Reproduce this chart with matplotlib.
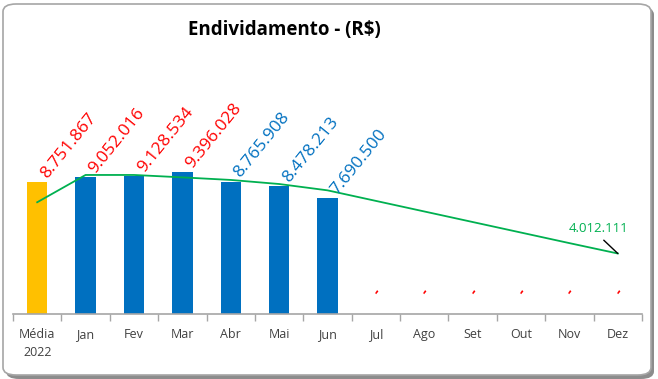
import matplotlib
matplotlib.use("Agg")
import matplotlib.pyplot as plt
from matplotlib.patches import FancyBboxPatch

categories = ["Média\n2022", "Jan", "Fev", "Mar", "Abr", "Mai", "Jun",
              "Jul", "Ago", "Set", "Out", "Nov", "Dez"]
values = [8751867, 9052016, 9128534, 9396028, 8765908, 8478213, 7690500,
          0, 0, 0, 0, 0, 0]
bar_colors = ["#FFC000"] + ["#0070C0"] * 12
label_colors = ["#FF0000"] * 4 + ["#0070C0"] * 3 + ["#FF0000"] * 6
trend = [7410000, 9220000, 9220000, 9060000, 8890000, 8620000, 8200000,
         7500000, 6800000, 6100000, 5400000, 4700000, 4012111]
trend_label = "4.012.111"

plt.rcParams['font.family'] = ['Open Sans', 'DejaVu Sans']

W, H = 658, 379
fig = plt.figure(figsize=(W / 100, H / 100), dpi=100)

# background frame with shadow
shadow = FancyBboxPatch((6 / W, 1 - 379 / H), 648 / W, 372 / H,
                        boxstyle="round,pad=0,rounding_size=0.02",
                        transform=fig.transFigure, facecolor="#8c8c8c",
                        edgecolor="none", zorder=0)
frame = FancyBboxPatch((3 / W, 1 - 375 / H), 648 / W, 371 / H,
                       boxstyle="round,pad=0,rounding_size=0.02",
                       transform=fig.transFigure, facecolor="white",
                       edgecolor="#a6a6a6", linewidth=1.2, zorder=1)
fig.patches.extend([shadow, frame])

ax = fig.add_axes([13 / W, 1 - 314 / H, (642 - 13) / W, (314 - 60) / H])
ax.set_facecolor("none")
ax.set_zorder(2)

x = list(range(len(categories)))
ax.bar(x, values, width=0.42, color=bar_colors, zorder=2)
ax.plot(x, trend, color="#00B050", linewidth=1.3, zorder=3)

ax.set_xlim(-0.5, len(categories) - 0.5)
ax.set_ylim(0, 254 / 15.08 * 1e6)

for i, v in enumerate(values):
    txt = f"{v:,}".replace(",", ".") if v else "-"
    if v:
        ax.annotate(txt, xy=(i, v), xytext=(13, 1), textcoords="offset pixels",
                    rotation=51, rotation_mode="anchor", ha="left", va="bottom",
                    color=label_colors[i], fontsize=12.5, zorder=4)
    else:
        ax.annotate(txt, xy=(i, v), xytext=(1, 22), textcoords="offset pixels",
                    rotation=55, rotation_mode="anchor", ha="center", va="center",
                    color=label_colors[i], fontsize=10, fontweight="bold",
                    zorder=4)

last = len(trend) - 1
ax.annotate(trend_label, xy=(last, trend[last]), xytext=(-19, 18),
            textcoords="offset pixels", ha="center", va="bottom",
            color="#00B050", fontsize=9.5, zorder=5,
            arrowprops=dict(arrowstyle="-", color="black", lw=1,
                            shrinkA=2, shrinkB=0,
                            relpos=(0.5, 0.0)))

for s in ["top", "right", "left"]:
    ax.spines[s].set_visible(False)
ax.spines["bottom"].set_color("#a6a6a6")
ax.spines["bottom"].set_linewidth(1.2)
ax.set_yticks([])
ax.set_xticks([i - 0.5 for i in range(len(categories) + 1)], minor=False)
ax.set_xticklabels([])
ax.tick_params(axis="x", which="major", length=5, color="#a6a6a6", width=1)
ax.set_xticks(x, minor=True)
ax.set_xticklabels(categories, minor=True, fontsize=9, color="#404040",
                   linespacing=1.5)
ax.tick_params(axis="x", which="minor", length=0, pad=10)

fig.text(284 / W, 1 - 30 / H, "Endividamento - (R$)", ha="center", va="center",
         fontsize=13.5, fontweight="bold", color="black")

fig.savefig("out.png", dpi=100)
